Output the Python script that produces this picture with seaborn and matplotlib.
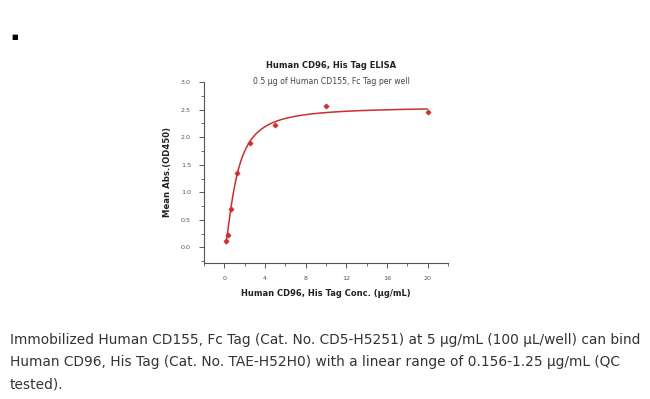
import numpy as np
import pandas as pd
import matplotlib
matplotlib.use("Agg")
import matplotlib.pyplot as plt
from matplotlib.ticker import MultipleLocator
import seaborn as sns

# Data
conc = [0.156, 0.3125, 0.625, 1.25, 2.5, 5, 10, 20]
od450 = [0.11, 0.23, 0.70, 1.35, 1.90, 2.22, 2.57, 2.45]
title = "Human CD96, His Tag ELISA"
subtitle = "0.5 μg of Human CD155, Fc Tag per well"
xlabel = "Human CD96, His Tag Conc. (μg/mL)"
ylabel = "Mean Abs.(OD450)"
caption_lines = [
    "Immobilized Human CD155, Fc Tag (Cat. No. CD5-H5251) at 5 μg/mL (100 μL/well) can bind",
    "Human CD96, His Tag (Cat. No. TAE-H52H0) with a linear range of 0.156-1.25 μg/mL (QC",
    "tested).",
]

sns.set_theme(style="ticks")
plt.rcParams['font.family'] = ['DejaVu Sans']

df = pd.DataFrame({"conc": conc, "od": od450})

# 4-parameter logistic fit (deterministic grid + linear least squares)
x = np.array(conc); y = np.array(od450)
best = None
for b in np.linspace(0.5, 3.0, 101):
    for c in np.exp(np.linspace(np.log(0.2), np.log(8), 161)):
        g = 1.0 / (1.0 + (x / c) ** b)
        A = np.column_stack([g, 1 - g])
        coef, *_ = np.linalg.lstsq(A, y, rcond=None)
        r = np.sum((A @ coef - y) ** 2)
        if best is None or r < best[0]:
            best = (r, b, c, coef)
_, b, c, (a_, d_) = best
xf = np.linspace(min(conc), max(conc), 400)
gf = 1.0 / (1.0 + (xf / c) ** b)
fit = pd.DataFrame({"conc": xf, "od": a_ * gf + d_ * (1 - gf)})

fig = plt.figure(figsize=(6.5, 3.99), dpi=100)
ax = fig.add_axes([0.314, 0.341, 0.375, 0.4535])
red = "#CC2E2E"
sns.lineplot(data=fit, x="conc", y="od", ax=ax, color=red, lw=1.1)
sns.scatterplot(data=df, x="conc", y="od", ax=ax, color=red, marker="D", s=7,
                edgecolor=red, linewidth=0.5, zorder=3)

ax.set_xlim(-2, 22)
ax.set_ylim(-0.28, 3.0)
ax.xaxis.set_major_locator(MultipleLocator(4))
ax.xaxis.set_minor_locator(MultipleLocator(2))
ax.yaxis.set_minor_locator(MultipleLocator(0.25))
ax.set_yticks(np.arange(0, 3.01, 0.5))
ax.set_yticklabels([f"{v:.1f}" for v in np.arange(0, 3.01, 0.5)])
sns.despine(ax=ax)
for s in ["left", "bottom"]:
    ax.spines[s].set_color("#555555")
    ax.spines[s].set_linewidth(0.8)
ax.tick_params(which="major", length=3.5, width=0.7, color="#555555",
               labelsize=4.6, labelcolor="#555555", pad=6)
ax.tick_params(which="minor", length=2, width=0.6, color="#555555")
ax.set_xlabel(xlabel, fontsize=6.0, fontweight="bold", color="#222222", labelpad=6)
ax.set_ylabel(ylabel, fontsize=6.1, fontweight="bold", color="#222222", labelpad=6)

fig.text(331 / 650, 1 - 66 / 399, title, ha="center", va="center", fontsize=6.0,
         fontweight="bold", color="#222222")
fig.text(331 / 650, 1 - 82 / 399, subtitle, ha="center", va="center", fontsize=5.6,
         color="#444444")

fig.text(15 / 650, 1 - 37 / 399, "■", ha="center", va="center", fontsize=5,
         color="black")

for i, line in enumerate(caption_lines):
    fig.text(10 / 650, 1 - (340 + 22 * i) / 399, line, ha="left", va="center",
             fontsize=9.95, color="#333333")

fig.savefig("out.png", dpi=100)
